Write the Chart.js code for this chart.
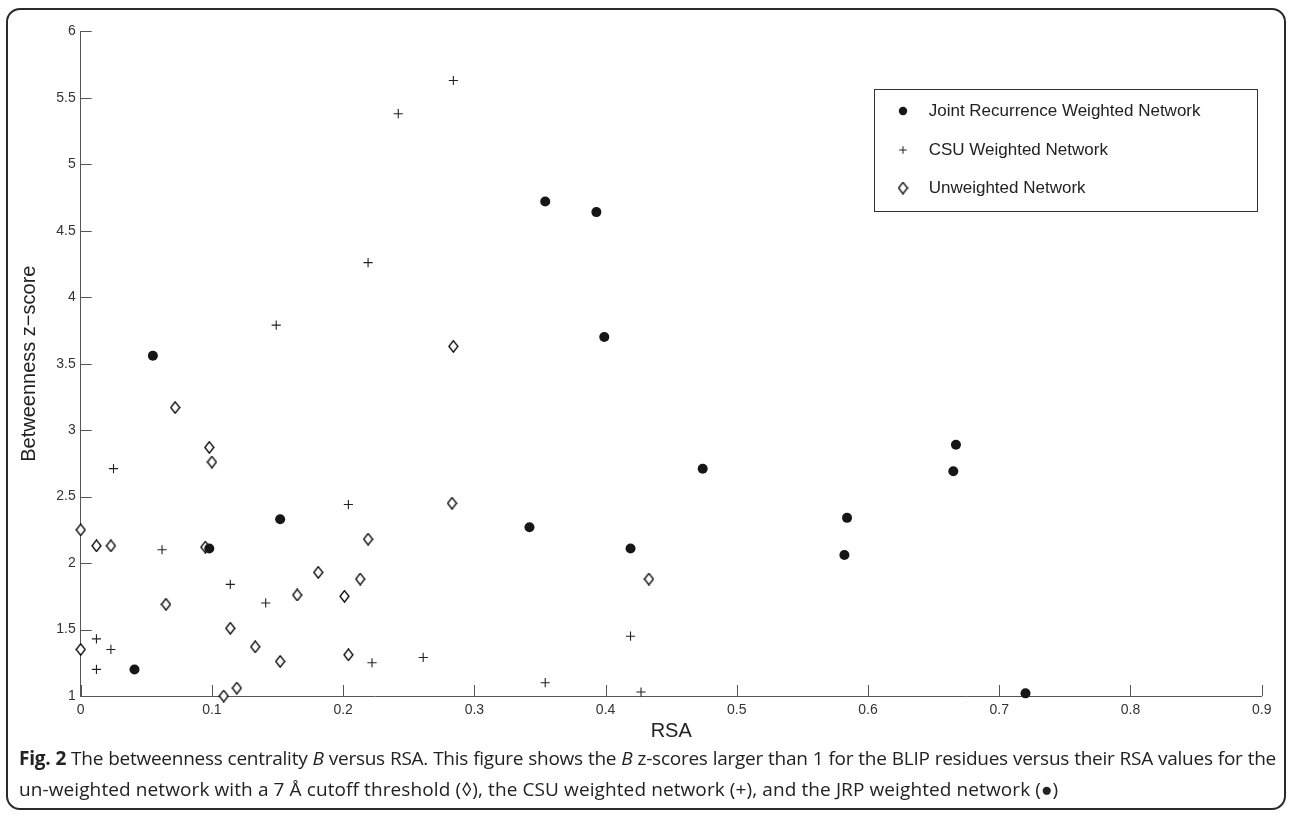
<!DOCTYPE html>
<html>
<head>
<meta charset="utf-8">
<title>Betweenness z-score versus RSA</title>
<script src="https://cdn.jsdelivr.net/npm/chart.js@4.4.1/dist/chart.umd.min.js"></script>
<style>
  html, body { margin: 0; padding: 0; background: #fff; }
  #wrap { position: relative; width: 1292px; height: 816px; overflow: hidden; }
  #frame {
    position: absolute; left: 6px; top: 8px; width: 1276px; height: 798px;
    border: 2px solid #2a2a2a; border-radius: 14px; box-sizing: content-box;
  }
  #chart { position: absolute; left: 0; top: 0; }
  #caption {
    position: absolute; left: 19px; top: 743px; width: 1257px;
    font-family: "Open Sans", "Liberation Sans", sans-serif; font-size: 19px;
    line-height: 31px; color: #222;
  }
  #caption .l1 { letter-spacing: -0.26px; text-align: justify; text-align-last: justify; white-space: nowrap; }
  #caption .l2 { letter-spacing: 0.1px; white-space: nowrap; }
  #caption b { font-weight: bold; }
</style>
</head>
<body>
<div id="wrap">
  <div id="frame"></div>
  <canvas id="chart" width="1292" height="816"></canvas>
  <div id="caption">
    <div class="l1"><b>Fig. 2</b> The betweenness centrality <i>B</i> versus RSA. This figure shows the <i>B</i> z-scores larger than 1 for the BLIP residues versus their RSA values for the</div>
    <div class="l2">un-weighted network with a 7 Å cutoff threshold (◊), the CSU weighted network (+), and the JRP weighted network (●)</div>
  </div>
</div>
<script>
// --- Donnees ---
const seriesNames = ["Joint Recurrence Weighted Network", "CSU Weighted Network", "Unweighted Network"];

// Joint Recurrence (ronds pleins)
const jrpRsa = [0.055, 0.041, 0.098, 0.152, 0.354, 0.393, 0.399, 0.342, 0.419, 0.474, 0.584, 0.582, 0.667, 0.665, 0.720];
const jrpZ   = [3.56, 1.20, 2.11, 2.33, 4.72, 4.64, 3.70, 2.27, 2.11, 2.71, 2.34, 2.06, 2.89, 2.69, 1.02];

// CSU (croix)
const csuRsa = [0.284, 0.242, 0.219, 0.149, 0.025, 0.204, 0.062, 0.114, 0.141, 0.012, 0.023, 0.012, 0.261, 0.222, 0.354, 0.419, 0.427];
const csuZ   = [5.63, 5.38, 4.26, 3.79, 2.71, 2.44, 2.10, 1.84, 1.70, 1.43, 1.35, 1.20, 1.29, 1.25, 1.10, 1.45, 1.03];

// Unweighted (losanges)
const unwRsa = [0.072, 0.098, 0.100, 0.000, 0.012, 0.023, 0.095, 0.065, 0.114, 0.133, 0.000, 0.152, 0.119, 0.109, 0.165, 0.181, 0.201, 0.213, 0.219, 0.204, 0.284, 0.283, 0.433];
const unwZ   = [3.17, 2.87, 2.76, 2.25, 2.13, 2.13, 2.12, 1.69, 1.51, 1.37, 1.35, 1.26, 1.06, 1.00, 1.76, 1.93, 1.75, 1.88, 2.18, 1.31, 3.63, 2.45, 1.88];

const xTicks = { min: 0, max: 0.9, step: 0.1 };
const yTicks = { min: 1, max: 6, step: 0.5 };

const toPoints = (xs, ys) => xs.map((x, i) => ({ x, y: ys[i] }));
const fmt = v => String(Math.round(v * 10) / 10); // 6.0 -> 6

// losange type MATLAB (un peu plus haut que large)
const diamond = document.createElement("canvas");
diamond.width = 11;
diamond.height = 13;
(() => {
  const c = diamond.getContext("2d");
  c.beginPath();
  c.moveTo(5.5, 0.8);
  c.lineTo(10, 6.5);
  c.lineTo(5.5, 12.2);
  c.lineTo(1, 6.5);
  c.closePath();
  c.fillStyle = "#fff";
  c.fill();
  c.strokeStyle = "#000";
  c.lineWidth = 1.3;
  c.stroke();
})();

// --- Graduations vers l'interieur ---
const inwardTicks = {
  id: "inwardTicks",
  afterDatasetsDraw(chart) {
    const { ctx, chartArea, scales: { x, y } } = chart;
    ctx.save();
    ctx.strokeStyle = "#555";
    ctx.lineWidth = 1;
    ctx.beginPath();
    x.ticks.forEach(t => {
      const px = Math.round(x.getPixelForValue(t.value)) + 0.5;
      ctx.moveTo(px, chartArea.bottom);
      ctx.lineTo(px, chartArea.bottom - 11);
    });
    y.ticks.forEach(t => {
      const py = Math.round(y.getPixelForValue(t.value)) + 0.5;
      ctx.moveTo(chartArea.left, py);
      ctx.lineTo(chartArea.left + 11, py);
    });
    ctx.stroke();
    ctx.restore();
  }
};

// --- Legende encadree ---
const boxLegend = {
  id: "boxLegend",
  afterDraw(chart) {
    const { ctx, chartArea } = chart;
    const w = 383, h = 122;
    const left = chartArea.right - 5 - w;
    const top = chartArea.top + 57.5;
    ctx.save();
    ctx.fillStyle = "#fff";
    ctx.fillRect(left, top, w, h);
    ctx.strokeStyle = "#333";
    ctx.lineWidth = 1;
    ctx.strokeRect(Math.round(left) + 0.5, Math.round(top) + 0.5, w, h);
    ctx.font = '17px "Liberation Sans", Arial, sans-serif';
    ctx.textBaseline = "middle";
    chart.data.datasets.forEach((ds, i) => {
      const cy = Math.round(top + 22.5 + i * 38.3);
      ctx.fillStyle = ds.backgroundColor;
      ctx.strokeStyle = ds.borderColor;
      Chart.helpers.drawPoint(ctx, {
        pointStyle: ds.pointStyle,
        radius: ds.legendRadius,
        borderWidth: ds.borderWidth,
        rotation: 0
      }, Math.round(left + 29), cy);
      ctx.fillStyle = "#222";
      ctx.fillText(ds.label, left + 55, cy);
    });
    ctx.restore();
  }
};

new Chart(document.getElementById("chart"), {
  type: "scatter",
  data: {
    datasets: [
      {
        label: seriesNames[0],
        data: toPoints(jrpRsa, jrpZ),
        pointStyle: "circle",
        pointRadius: 5,
        legendRadius: 4.2,
        backgroundColor: "#161616",
        borderColor: "#161616",
        borderWidth: 0,
        clip: false
      },
      {
        label: seriesNames[1],
        data: toPoints(csuRsa, csuZ),
        pointStyle: "cross",
        pointRadius: 4.6,
        legendRadius: 3.8,
        backgroundColor: "#222",
        borderColor: "#222",
        borderWidth: 1.1,
        clip: false
      },
      {
        label: seriesNames[2],
        data: toPoints(unwRsa, unwZ),
        pointStyle: diamond,
        pointRadius: 5,
        legendRadius: 5,
        backgroundColor: "#fff",
        borderColor: "#000",
        borderWidth: 1,
        clip: false
      }
    ]
  },
  options: {
    responsive: false,
    animation: false,
    events: [],
    layout: { padding: { top: 31.3, right: 30.3, bottom: 0, left: 0 } },
    plugins: {
      legend: { display: false },
      tooltip: { enabled: false }
    },
    scales: {
      x: {
        type: "linear",
        min: xTicks.min,
        max: xTicks.max,
        grid: { display: false, drawTicks: false },
        border: { display: true, color: "#555", width: 1 },
        ticks: {
          stepSize: xTicks.step,
          padding: 6,
          color: "#333",
          font: { family: '"Liberation Sans", Arial, sans-serif', size: 14 },
          maxRotation: 0,
          callback: v => fmt(v)
        },
        title: {
          display: true,
          text: "RSA",
          color: "#222",
          font: { family: '"Liberation Sans", Arial, sans-serif', size: 20 },
          padding: { top: 0, bottom: 73 }
        },
        afterFit: s => { s.height = 120; }
      },
      y: {
        type: "linear",
        min: yTicks.min,
        max: yTicks.max,
        grid: { display: false, drawTicks: false },
        border: { display: true, color: "#555", width: 1 },
        ticks: {
          stepSize: yTicks.step,
          padding: 5,
          color: "#333",
          font: { family: '"Liberation Sans", Arial, sans-serif', size: 14 },
          callback: v => fmt(v)
        },
        title: {
          display: true,
          text: "Betweenness z\u2212score",
          color: "#222",
          font: { family: '"Liberation Sans", Arial, sans-serif', size: 20 },
          padding: { top: 17, bottom: 0 }
        },
        afterFit: s => { s.width = 80.7; }
      }
    }
  },
  plugins: [inwardTicks, boxLegend]
});
</script>
</body>
</html>
